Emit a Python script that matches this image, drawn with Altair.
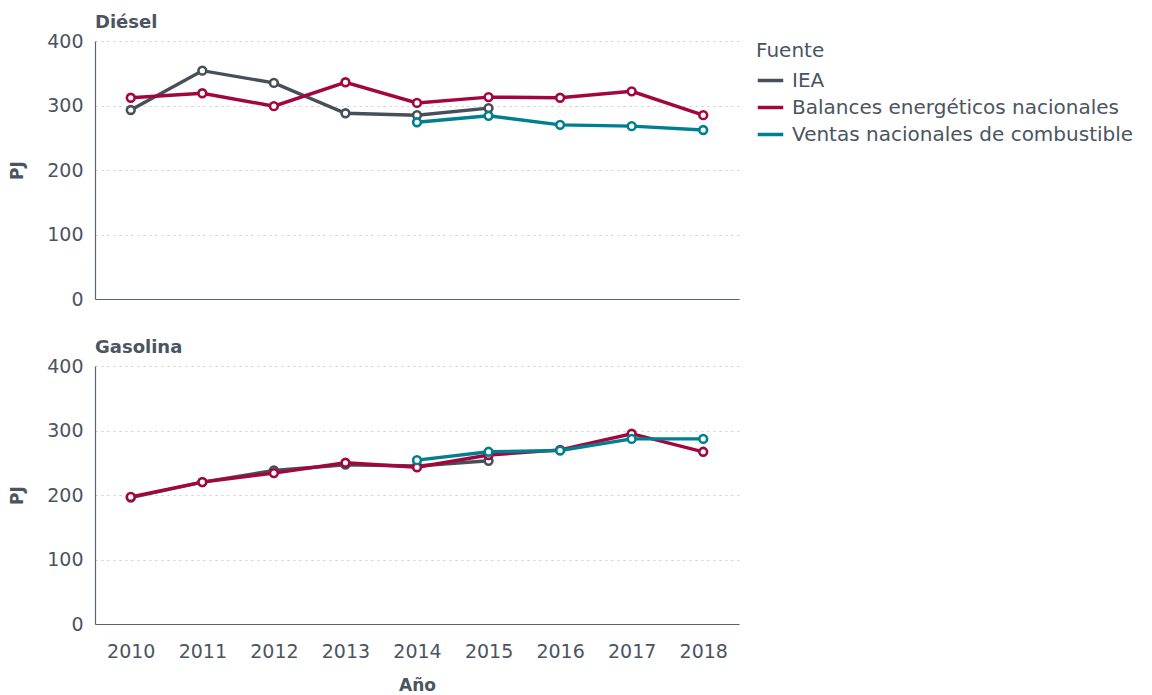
import altair as alt
import pandas as pd

years = [2010, 2011, 2012, 2013, 2014, 2015, 2016, 2017, 2018]

diesel_iea = [293, 354, 335, 288, 285, 296, None, None, None]
diesel_bal = [312, 319, 299, 336, 304, 313, 312, 322, 285]
diesel_ven = [None, None, None, None, 274, 284, 270, 268, 262]

gas_iea = [196, 220, 238, 247, 245, 253, None, None, None]
gas_bal = [197, 220, 234, 250, 243, 262, 270, 295, 267]
gas_ven = [None, None, None, None, 254, 267, 269, 287, 287]

sources = ["IEA", "Balances energéticos nacionales", "Ventas nacionales de combustible"]
colors = ["#46505a", "#a3063e", "#007f91"]

FONT = "DejaVu Sans"
TXT = "#4a5561"


def build(vals_list):
    rows = []
    for src, vals in zip(sources, vals_list):
        for y, v in zip(years, vals):
            if v is not None:
                rows.append({"Año": str(y), "PJ": v, "Fuente": src})
    return pd.DataFrame(rows)


df_d = build([diesel_iea, diesel_bal, diesel_ven])
df_g = build([gas_iea, gas_bal, gas_ven])

color = alt.Color("Fuente:N", scale=alt.Scale(domain=sources, range=colors),
                  legend=alt.Legend(title="Fuente", symbolType="stroke",
                                    symbolStrokeWidth=3.5, symbolSize=650,
                                    labelLimit=0, rowPadding=2, titlePadding=5,
                                    labelOffset=7, orient="right", offset=17))


def panel(df, title, show_x):
    xaxis = alt.Axis(title="Año" if show_x else None, labels=show_x,
                     labelAngle=0, ticks=False, domain=True, grid=False,
                     labelPadding=18, titlePadding=16)
    x = alt.X("Año:O", axis=xaxis, scale=alt.Scale(paddingOuter=0.5))
    y = alt.Y("PJ:Q", scale=alt.Scale(domain=[0, 400]),
              axis=alt.Axis(values=[0, 100, 200, 300, 400], ticks=False,
                            grid=True, gridDash=[2, 4], gridColor="#cccccc",
                            labelPadding=12, titlePadding=20))
    base = alt.Chart(df).encode(x=x, y=y, color=color, detail="Fuente:N")
    line = base.mark_line(strokeWidth=3.4)
    pts = base.mark_point(filled=True, fill="white", size=60, strokeWidth=2.6, opacity=1).encode(
        stroke=alt.Stroke("Fuente:N", scale=alt.Scale(domain=sources, range=colors), legend=None))
    return alt.layer(line, pts).properties(
        width=644, height=258,
        title=alt.TitleParams(title, anchor="start", frame="group", fontSize=18,
                              fontWeight="bold", color=TXT, font=FONT, offset=0))


chart = alt.vconcat(panel(df_d, "Diésel", False), panel(df_g, "Gasolina", True),
                    spacing=30).properties(
    padding={"left": 0, "top": 6, "right": 0, "bottom": 0}
).configure_view(stroke=None).configure_axis(
    labelFont=FONT, titleFont=FONT, labelFontSize=19, titleFontSize=17,
    labelColor=TXT, titleColor=TXT, domainColor="#5a6470", domainWidth=1.2,
    titleFontWeight="bold").configure_legend(
    labelFont=FONT, titleFont=FONT, labelFontSize=20, titleFontSize=20,
    labelColor=TXT, titleColor=TXT, titleFontWeight="normal")

chart.save("out.html", embed_options={"renderer": "svg", "actions": False})
